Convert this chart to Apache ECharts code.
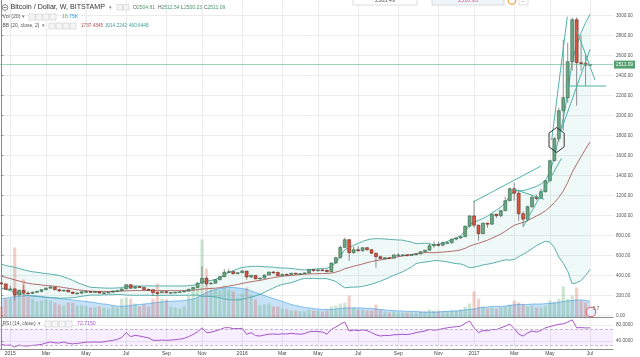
<!DOCTYPE html>
<html><head><meta charset="utf-8">
<script src="https://cdn.jsdelivr.net/npm/echarts@6/dist/echarts.min.js"></script>
<style>html,body{margin:0;padding:0;background:#fff}#c{width:640px;height:357px}</style>
</head><body><div id="c"></div>
<script>
// Weekly BTC/USD (Bitstamp), weeks indexed 0 = 2014-12-22 ... 132 = 2017-07-03
const open = [328,318,264,268,208,253,227,223,234,244, 260,275,285,260,248,255,237,223,225,240,
 241,237,240,226,230,234,245,250,268,310, 275,290,283,262,260,231,229,240,230,232,
 235,239,245,265,283,325,373,320,325,360, 390,435,440,420,430,447,387,403,368,376,
 407,437,433,401,413,411,425,420,420,428, 460,452,458,455,440,527,580,683,760,630,
 660,650,680,660,625,590,570,580,575,608, 608,609,601,612,617,640,655,700,711,705,
 730,730,766,777,790,896,998,905,820,925, 915,1015,1000,1050,1150,1270,1225,1020,965,1090,
 1185,1172,1240,1350,1550,1770,2050,2180,2540,2960, 2530,2525,2504.81];
const close = [318,264,268,208,253,227,223,234,244,260, 275,285,260,248,255,237,223,225,240,241,
 237,240,226,230,234,245,250,268,310,275, 290,283,262,260,231,229,240,230,232,235,
 239,245,265,283,325,373,320,325,360,390, 435,440,420,430,447,387,403,368,376,407,
 437,433,401,413,411,425,420,420,428,460, 452,458,455,440,527,580,683,760,630,660,
 650,680,660,625,590,570,580,575,608,608, 609,601,612,617,640,655,700,711,705,730,
 730,766,777,790,896,998,905,820,925,915, 1015,1000,1050,1150,1270,1225,1020,965,1090,1185,
 1172,1240,1350,1550,1770,2050,2180,2540,2960,2530, 2525,2504.81,2511.09];
const high = [335,320,300,270,255,310,245,240,248,262, 285,300,288,270,260,263,240,238,242,247,
 245,242,241,232,238,252,250,268,315,318, 300,297,285,272,262,236,240,245,235,238,
 240,247,268,287,335,495,390,340,365,395, 465,468,455,435,460,447,410,405,380,410,
 440,445,440,420,420,425,428,425,430,465, 468,462,465,460,530,590,700,780,765,690,
 690,680,685,665,630,600,585,585,612,625, 610,612,615,620,645,658,720,745,740,742,
 745,770,780,795,900,1000,1150,910,930,930, 1020,1015,1055,1190,1280,1330,1255,1045,1100,1200,
 1210,1270,1350,1560,1790,2080,2760,2730,2980,2985, 2800,2620,2512.54];
const low = [315,260,262,152,200,215,212,216,230,233, 258,268,255,238,240,235,215,218,218,230,
 233,232,224,220,227,232,240,249,265,270, 272,282,256,258,195,208,225,228,225,225,
 233,236,244,264,283,325,300,315,320,355, 385,428,412,415,425,360,375,365,360,370,
 405,418,395,400,405,410,410,415,418,426, 440,440,445,435,438,520,575,680,550,620,
 640,640,650,615,480,565,565,570,570,600, 600,592,600,605,615,635,650,680,690,695,
 725,720,755,770,788,880,880,750,815,880, 910,975,985,1045,1150,1150,950,890,940,1080,
 1155,1165,1230,1340,1545,1740,1850,2130,2450,2100, 2450,2300,2500.23];
// Bollinger Bands (20, close, 2)
const bbBasis = [396.0,383.2,371.6,358.1,346.9,334.5,325.1,316.8,313.0,307.2, 301.5,298.0,294.1,288.3,281.5,274.6,266.9,259.4,253.9,249.4,
 245.4,244.2,242.1,243.2,242.2,243.1,244.5,246.2,249.5,250.2, 251.0,250.9,251.0,251.6,250.4,250.0,250.8,251.1,250.7,250.4,
 250.5,250.7,252.7,255.3,259.9,266.3,269.8,272.6,275.1,280.9, 288.1,296.0,303.9,312.4,323.2,331.1,339.2,346.1,353.3,361.9,
 371.8,381.2,388.0,394.5,398.8,401.4,406.4,411.2,414.6,418.1, 418.9,419.8,421.6,422.1,426.1,435.7,449.7,469.3,482.0,494.7,
 505.3,517.7,530.6,541.2,550.2,557.4,565.4,573.2,582.2,589.6, 597.4,604.6,612.4,621.3,626.9,630.7,631.5,629.1,632.8,636.3,
 640.3,644.6,650.5,658.7,674.0,695.4,711.7,723.9,739.8,755.1, 775.4,795.4,817.3,843.9,875.4,903.9,919.9,932.6,951.9,974.6,
 996.7,1020.4,1049.1,1087.1,1130.8,1183.4,1247.1,1333.1,1434.9,1515.6, 1591.1,1666.4,1737.4345];
const bbUpper = [516.0,502.2,492.6,484.1,471.9,458.5,448.1,439.2,434.0,427.2, 421.3,416.0,410.1,402.3,387.5,371.6,353.9,332.4,314.3,298.8,
 283.8,281.6,278.7,276.8,275.2,275.9,277.1,281.2,292.5,295.2, 297.2,297.5,297.6,297.8,297.6,297.6,297.8,297.7,296.9,296.6,
 296.7,297.1,299.7,304.3,313.7,338.7,345.8,352.6,361.9,382.9, 408.7,432.0,449.9,467.4,483.2,488.1,493.4,494.1,493.3,489.3,
 487.8,485.2,479.2,476.5,475.8,472.4,467.2,460.2,457.0,462.1, 464.9,469.0,472.6,474.1,494.9,529.5,591.3,660.1,680.0,703.7,
 723.1,741.7,757.6,767.4,770.2,769.4,767.2,763.2,760.2,757.6, 755.4,744.6,736.4,720.7,722.9,724.7,721.7,707.1,714.8,728.3,
 742.9,760.6,779.5,800.5,845.8,911.0,938.7,951.9,972.0,995.1, 1027.0,1055.4,1087.3,1129.1,1195.4,1245.7,1249.9,1250.8,1261.9,1278.6,
 1291.9,1316.4,1353.5,1438.7,1580.2,1780.4,1970.5,2222.9,2551.3,2701.4, 2830.7,2930.4,3014.2242];
const bbLower = [276.0,264.2,250.6,232.1,221.9,210.5,202.1,194.4,192.0,187.2, 181.7,180.0,178.1,174.3,175.5,177.6,179.9,186.4,193.5,200.0,
 207.0,206.8,205.5,209.6,209.2,210.3,211.9,211.2,206.5,205.2, 204.8,204.3,204.4,205.4,203.2,202.4,203.8,204.5,204.5,204.2,
 204.3,204.3,205.7,206.3,206.1,193.9,193.8,192.6,188.3,178.9, 167.5,160.0,157.9,157.4,163.2,174.1,185.0,198.1,213.3,234.5,
 255.8,277.2,296.8,312.5,321.8,330.4,345.6,362.2,372.2,374.1, 372.9,370.6,370.6,370.1,357.3,341.9,308.1,278.5,284.0,285.7,
 287.5,293.7,303.6,315.0,330.2,345.4,363.6,383.2,404.2,421.6, 439.4,464.6,488.4,521.9,530.9,536.7,541.3,551.1,550.8,544.3,
 537.7,528.6,521.5,516.9,502.2,479.8,484.7,495.9,507.6,515.1, 523.8,535.4,547.3,558.7,555.4,562.1,589.9,614.4,641.9,670.6,
 701.5,724.4,744.7,735.5,681.4,586.4,523.7,443.3,318.5,329.8, 351.5,402.4,460.6448];
// Volume (thousand BTC) and its 20-week average
const volume = [51,87,87,322,129,175,97,87,74,78, 83,78,69,60,55,69,69,55,55,51,
 46,46,51,46,41,51,46,87,92,87, 64,51,60,51,87,156,87,83,51,46,
 41,51,101,129,152,359,225,138,129,124, 147,129,120,92,110,138,101,83,55,60,
 64,51,51,41,37,32,32,28,28,37, 32,32,28,32,51,55,64,69,101,46,
 37,37,32,32,60,37,28,23,28,23, 23,23,23,23,28,28,37,32,32,28,
 28,32,32,37,51,64,120,87,51,41, 46,41,46,51,60,78,69,60,51,55,
 46,46,55,78,74,87,143,87,101,138, 78,69,0.016];
const volumeMA = [87,90,92,97,97,99,101,101,99,97, 94,92,90,87,85,83,81,78,76,74,
 71,69,64,62,60,55,53,51,53,55, 58,60,62,64,67,69,71,74,74,76,
 76,78,81,85,92,104,115,122,129,133, 136,138,138,136,133,129,122,115,108,101,
 94,87,81,74,67,60,55,51,46,44, 41,39,37,37,37,39,41,44,44,44,
 44,44,41,41,39,37,35,32,32,30, 30,28,28,28,25,25,25,25,25,28,
 28,30,30,32,35,37,39,44,46,48, 51,51,51,53,55,58,60,60,60,62,
 62,62,64,64,67,69,74,76,78,81, 81,78,75];
// RSI (14, close)
const rsi = [31.7,29,30,25,30,27.5,27.5,29,30,31.5, 35,37.5,35.5,35,37.5,34,33,34,35.5,37.5,
 37,37.5,37,38,40,41.5,44,49,61,51, 54,52.5,50,48,42,41.5,42.5,41.5,42.5,43.5,
 44.5,46.5,51,56.5,63,73,61,62,65,68.5, 73,73.5,70.8,71,71.7,56.7,61,53.5,52.5,55,
 57,57.5,56.7,58,57.5,59,58,57,58.5,63, 64,63.5,62.5,57,69,75,82,87.5,65,67.5,
 66,68,66,61,55.5,52.5,54,53.5,55.5,56, 56.7,56,58,61,63,65,69,67,68.5,71,
 73,74.5,75.7,77,84,90,73,61,66,65.5, 69,68.5,73,77,82.5,71,57,52.5,60,65,
 62.5,66.5,73,76,79,81.7,83,87,93,73, 73.5,72.7,72.715];
// Axis ticks
const monthTickWeeks = [2,10,19,28,37,45,54,63,71,80,89,98,106,115,123,132];
const monthLabels = ['2015','Mar','May','Jul','Sep','Nov','2016','Mar','May','Jul','Sep','Nov','2017','Mar','May','Jul'];
const priceTicks = [0,200,400,600,800,1000,1200,1400,1600,1800,2000,2200,2400,2600,2800,3000];
const rsiTicks = [40,80];
const lastPrice = 2511.09;
// User drawings, in (week, price)
const trendLines = [
 [[105.8,1137],[121.0,1497]],
 [[114.8,1267],[121.7,1164]],
 [[117.0,890],[125.6,1574]],
 [[123.4,1757],[126.9,2990]],
 [[125.3,1827],[132.0,2664]],
 [[129.0,2857],[133.1,2357]],
 [[126.4,2297],[135.6,2297]]
];
const hexagon = {center:[124.5,1757], halfW:1.7, halfH:125};

const FONT = '"Liberation Sans", Arial, sans-serif';
const upFill='#6ba583', upLine='#225437', dnFill='#d75442', dnLine='#5b1a13', wickC='#737375';
const ohlc = close.map((c,i)=>[i, open[i], c, low[i], high[i]]);
const chart = echarts.init(document.getElementById('c'));

function txt(x,y,t,size,color,align){
  return {type:'text', x:x, y:y, z:100, style:{text:t, fill:color, font:size+'px '+FONT, verticalAlign:'middle', align:align||'left'}};
}
function box(x,y,w,h){
  return {type:'rect', z:100, shape:{x:x,y:y,width:w,height:h}, style:{fill:'#f6f6f6', stroke:'#cfcfcf', lineWidth:0.6}};
}
const gfx = [
  {type:'circle', z:100, shape:{cx:5, cy:7.5, r:2.8}, style:{fill:'#fff', stroke:'#666', lineWidth:0.8}},
  {type:'line', z:100, shape:{x1:3.4,y1:7.5,x2:6.6,y2:7.5}, style:{stroke:'#666', lineWidth:0.8}},
  txt(10.5,7.5,'Bitcoin / Dollar, W, BITSTAMP',7.1,'#333'),
  txt(109,7.5,'▾',5,'#777'),
  box(117,4.5,5.5,5.5), box(123.5,4.5,5.5,5.5),
  txt(133,7.5,'O',5,'#555'), txt(137,7.5,'2504.81',5,'#4c9a6e'),
  txt(158,7.5,'H',5,'#555'), txt(161.5,7.5,'2512.54',5,'#4c9a6e'),
  txt(181,7.5,'L',5,'#555'), txt(184,7.5,'2500.23',5,'#4c9a6e'),
  txt(204,7.5,'C',5,'#555'), txt(207.5,7.5,'2511.09',5,'#4c9a6e'),
  txt(2.5,17,'Vol (20)',5.2,'#555'), txt(21.5,17,'▾',4.5,'#777'),
  box(29,14,6,6), box(36,14,6,6), box(43,14,6,6), box(50,14,6,6),
  txt(62,17,'16',5.2,'#5aa86a'), txt(69,17,'75K',5.2,'#2f9ee6'),
  txt(2.5,26,'BB (20, close, 2)',5,'#555'), txt(42,26,'▾',4.5,'#777'),
  box(49,23,6,6), box(56,23,6,6), box(63,23,6,6), box(70,23,6,6),
  txt(81,26,'1737.4345',4.7,'#b04a4a'), txt(105,26,'3014.2242',4.7,'#3e9e9a'), txt(129,26,'460.6448',4.7,'#3e9e9a'),
  txt(2.5,324,'RSI (14, close)',5,'#555'), txt(38,324,'▾',4.5,'#777'),
  box(45,321,6,6), box(52,321,6,6), box(59,321,6,6), box(66,321,6,6),
  txt(77,324,'72.7150',5.2,'#a655c8'),
  {type:'rect', z:100, shape:{x:353,y:-5,width:64,height:10}, style:{fill:'#fff', stroke:'#c8c8c8', lineWidth:0.6}},
  txt(385,0.5,'2503.49',5.5,'#555','center'),
  {type:'rect', z:100, shape:{x:432,y:-5,width:72,height:10}, style:{fill:'#eef6fb', stroke:'#c8c8c8', lineWidth:0.6}},
  txt(468,0.5,'2510.93',5.5,'#e0507a','center'),
  {type:'circle', z:100, shape:{cx:512, cy:0.5, r:3.8}, style:{fill:'none', stroke:'#f0a040', lineWidth:1.2}},
  {type:'rect', z:100, shape:{x:519,y:-5,width:9,height:10}, style:{fill:'#fff', stroke:'#c8c8c8', lineWidth:0.6}},
  txt(521.5,2,'–',5,'#777'),
  {type:'circle', z:100, shape:{cx:591, cy:312, r:4.8}, style:{fill:'#eaf0fb', stroke:'#e05555', lineWidth:1}},
  txt(593,309,'5.7',4.5,'#555')
];

const series = [
  { // BB fill
    type:'custom', xAxisIndex:0, yAxisIndex:0, z:1, silent:true,
    data:[[0,bbBasis[0]]],
    renderItem:function(params, api){
      const pts=[];
      for(let i=0;i<bbUpper.length;i++) pts.push(api.coord([i,bbUpper[i]]));
      for(let i=bbLower.length-1;i>=0;i--) pts.push(api.coord([i,bbLower[i]]));
      return {type:'polygon', shape:{points:pts}, style:{fill:'rgba(34,171,148,0.07)'}};
    }
  },
  { // volume bars
    type:'bar', xAxisIndex:0, yAxisIndex:1, z:2, barWidth:3.2, silent:true,
    data: volume.map((v,i)=>[i,v]),
    itemStyle:{color:function(p){ const i=p.dataIndex; return close[i]>=open[i] ? 'rgba(107,175,120,0.33)' : 'rgba(215,84,66,0.28)'; }}
  },
  { // volume MA
    type:'line', xAxisIndex:0, yAxisIndex:1, z:2, symbol:'none', silent:true,
    data: volumeMA.map((v,i)=>[i,v]),
    lineStyle:{color:'rgba(30,140,225,0.5)', width:1},
    areaStyle:{color:'rgba(30,140,225,0.36)'}
  },
  { type:'line', xAxisIndex:0, yAxisIndex:0, z:3, symbol:'none', silent:true,
    data: bbUpper.map((v,i)=>[i,v]), lineStyle:{color:'#5aafad', width:1} },
  { type:'line', xAxisIndex:0, yAxisIndex:0, z:3, symbol:'none', silent:true,
    data: bbLower.map((v,i)=>[i,v]), lineStyle:{color:'#5aafad', width:1} },
  { type:'line', xAxisIndex:0, yAxisIndex:0, z:3, symbol:'none', silent:true,
    data: bbBasis.map((v,i)=>[i,v]), lineStyle:{color:'#b06d6d', width:1},
    markLine:{ silent:true, symbol:'none', animation:false,
      lineStyle:{color:'rgba(83,175,125,0.55)', width:1, type:'solid'},
      label:{show:true, position:'end', distance:1, formatter:lastPrice.toFixed(2), color:'#fff', backgroundColor:'#55a06f',
        padding:[2,2,1,2], fontSize:4.8, fontFamily:FONT},
      data:[{yAxis:lastPrice}] }
  },
  { // candles
    type:'custom', xAxisIndex:0, yAxisIndex:0, z:4, silent:true,
    data: ohlc, encode:{x:0, y:[1,2,3,4]},
    renderItem:function(params, api){
      const i=api.value(0), o=api.value(1), c=api.value(2), l=api.value(3), h=api.value(4);
      const pO=api.coord([i,o]), pC=api.coord([i,c]), pL=api.coord([i,l]), pH=api.coord([i,h]);
      const up = c>=o; const x=pO[0]; const w=3;
      const top=Math.min(pO[1],pC[1]), bot=Math.max(pO[1],pC[1]);
      return {type:'group', children:[
        {type:'line', shape:{x1:x,y1:pH[1],x2:x,y2:pL[1]}, style:{stroke:wickC, lineWidth:0.8}},
        {type:'rect', shape:{x:x-w/2,y:top,width:w,height:Math.max(bot-top,0.8)},
          style:{fill: up?upFill:dnFill, stroke: up?upLine:dnLine, lineWidth:0.5}}
      ]};
    }
  },
  { // hexagon drawing
    type:'custom', xAxisIndex:0, yAxisIndex:0, z:6, silent:true,
    data:[hexagon.center],
    renderItem:function(params, api){
      const cx=hexagon.center[0], cy=hexagon.center[1], hw=hexagon.halfW, hh=hexagon.halfH;
      const v=[[cx,cy+hh],[cx+hw,cy+hh*0.55],[cx+hw,cy-hh*0.55],[cx,cy-hh],[cx-hw,cy-hh*0.55],[cx-hw,cy+hh*0.55]];
      return {type:'polygon', shape:{points:v.map(p=>api.coord(p))}, style:{fill:'none', stroke:'#333', lineWidth:1}};
    }
  },
  { // RSI
    type:'line', xAxisIndex:1, yAxisIndex:2, z:3, symbol:'none', silent:true,
    data: rsi.map((v,i)=>[i,v]), lineStyle:{color:'#a655c8', width:1},
    markArea:{silent:true, itemStyle:{color:'rgba(153,21,255,0.075)'}, data:[[{yAxis:30},{yAxis:70}]]},
    markLine:{silent:true, symbol:'none', label:{show:false}, lineStyle:{color:'#b9a6c7', width:0.8, type:[3,2]},
      data:[{yAxis:70},{yAxis:30}]}
  }
];
trendLines.forEach(seg=>{
  series.push({type:'line', xAxisIndex:0, yAxisIndex:0, z:5, symbol:'none', silent:true,
    data:seg, lineStyle:{color:'#4fb3a5', width:1}});
});

const grid0 = {left:0, top:0, width:613, height:317.5};
const grid1 = {left:0, top:318, width:613, height:31};
const splitC = '#ececec', axisC = '#8c8c8c';
chart.setOption({
  animation:false,
  backgroundColor:'#fff',
  grid:[grid0, grid1],
  xAxis:[
    {gridIndex:0, type:'value', min:-0.3, max:137.15,
      axisLine:{show:true, onZero:false, lineStyle:{color:axisC}},
      axisTick:{show:false, customValues:monthTickWeeks}, axisLabel:{show:false},
      splitLine:{show:true, lineStyle:{color:splitC, width:1}}},
    {gridIndex:1, type:'value', min:-0.3, max:137.15,
      axisLine:{show:true, onZero:false, lineStyle:{color:axisC}},
      axisTick:{show:false, customValues:monthTickWeeks},
      axisLabel:{show:true, customValues:monthTickWeeks, margin:2, fontSize:5, color:'#444', fontFamily:FONT,
        formatter:function(v){ const k=monthTickWeeks.indexOf(v); return k>=0?monthLabels[k]:''; }},
      splitLine:{show:true, lineStyle:{color:splitC, width:1}}}
  ],
  yAxis:[
    {gridIndex:0, type:'value', position:'right', min:-18, max:3157,
      axisLine:{show:true, lineStyle:{color:axisC}},
      axisTick:{show:true, length:2, customValues:priceTicks, lineStyle:{color:axisC}},
      axisLabel:{show:true, customValues:priceTicks, margin:3, fontSize:4.7, color:'#555', fontFamily:FONT,
        formatter:function(v){ return v.toFixed(2); }},
      splitLine:{show:true, lineStyle:{color:splitC, width:1}}},
    {gridIndex:0, type:'value', min:0, max:1460, show:false, splitLine:{show:false}},
    {gridIndex:1, type:'value', position:'right', min:20, max:97.5,
      axisLine:{show:true, lineStyle:{color:axisC}},
      axisTick:{show:true, length:2, customValues:rsiTicks, lineStyle:{color:axisC}},
      axisLabel:{show:true, customValues:rsiTicks, margin:3, fontSize:4.7, color:'#555', fontFamily:FONT,
        formatter:function(v){ return v.toFixed(4); }},
      splitLine:{show:true, lineStyle:{color:splitC, width:1}}}
  ],
  series:series,
  graphic:gfx
});
</script></body></html>
